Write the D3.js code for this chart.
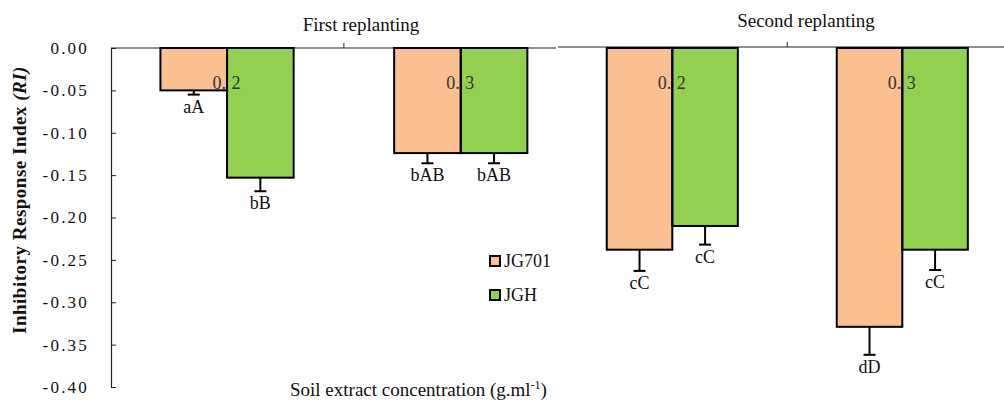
<!DOCTYPE html>
<html>
<head>
<meta charset="utf-8">
<script src="https://cdn.jsdelivr.net/npm/d3@7"></script>
<style>
  html, body { margin: 0; padding: 0; background: #fff; }
  svg text { font-family: "Liberation Serif", "Times New Roman", serif; }
</style>
</head>
<body>
<svg id="chart" width="1004" height="407"></svg>
<script>
// Concentrations (g.ml-1) within each replanting
const categories = ["0.2", "0.3"];
const panels = ["First replanting", "Second replanting"];
const seriesNames = ["JG701", "JGH"];
const seriesColors = ["#FAC090", "#92D050"];

// Inhibitory response index, one array per cultivar and replanting
const jg701First = [-0.050, -0.124];
const jghFirst = [-0.153, -0.124];
const jg701Second = [-0.238, -0.329];
const jghSecond = [-0.210, -0.238];

// Standard errors
const jg701FirstErr = [0.005, 0.012];
const jghFirstErr = [0.016, 0.012];
const jg701SecondErr = [0.025, 0.033];
const jghSecondErr = [0.022, 0.024];

// Significance letters
const jg701FirstSig = ["aA", "bAB"];
const jghFirstSig = ["bB", "bAB"];
const jg701SecondSig = ["cC", "dD"];
const jghSecondSig = ["cC", "cC"];

const yTicks = [0, -0.05, -0.10, -0.15, -0.20, -0.25, -0.30, -0.35, -0.40];

const SERIF = "Liberation Serif, Times New Roman, serif";
const svg = d3.select("#chart");

const y = d3.scaleLinear().domain([-0.4, 0]).range([387, 48]);

const panelDefs = [
  { title: panels[0], range: [110.2, 577.6], line: [111, 556], lineY: 48, titleX: 361, titleY: 31,
    values: [jg701First, jghFirst], errs: [jg701FirstErr, jghFirstErr], sig: [jg701FirstSig, jghFirstSig] },
  { title: panels[1], range: [557.3, 1017.3], line: [558, 1004], lineY: 47, titleX: 806, titleY: 27,
    values: [jg701Second, jghSecond], errs: [jg701SecondErr, jghSecondErr], sig: [jg701SecondSig, jghSecondSig] }
];

panelDefs.forEach(p => {
  const x0 = d3.scaleBand().domain(categories).range(p.range).paddingInner(0.43).paddingOuter(0.215);
  const x1 = d3.scaleBand().domain(seriesNames).range([0, x0.bandwidth()]);
  const gap = (x0.step() - x0.bandwidth()) / 2;

  const g = svg.append("g");

  // category axis along the zero line, ticks at category boundaries
  g.append("line")
    .attr("x1", p.line[0]).attr("x2", p.line[1])
    .attr("y1", p.lineY).attr("y2", p.lineY)
    .attr("stroke", "#222").attr("stroke-width", 1.2);
  const bounds = categories.map(c => x0(c) - gap).concat([x0(categories[categories.length - 1]) + x0.bandwidth() + gap]);
  g.selectAll(".ctick").data(bounds.filter(b => b > p.line[0] + 2 && b < p.line[1] + 3))
    .join("line")
    .attr("x1", d => d).attr("x2", d => d)
    .attr("y1", p.lineY - 5).attr("y2", p.lineY)
    .attr("stroke", "#222").attr("stroke-width", 1);

  g.append("text")
    .attr("x", p.titleX).attr("y", p.titleY)
    .attr("text-anchor", "middle")
    .attr("font-family", SERIF)
    .attr("font-size", 19)
    .attr("fill", "#111")
    .text(p.title);

  const rows = [];
  categories.forEach((c, ci) => {
    seriesNames.forEach((s, si) => {
      rows.push({ c, s, si, v: p.values[si][ci], e: p.errs[si][ci], lab: p.sig[si][ci] });
    });
  });

  // bar fills
  g.selectAll(".fill").data(rows).join("rect")
    .attr("x", d => x0(d.c) + x1(d.s))
    .attr("y", y(0))
    .attr("width", x1.bandwidth())
    .attr("height", d => y(d.v) - y(0))
    .attr("fill", d => seriesColors[d.si]);

  // concentration labels sit under the bar outlines
  const cat = g.selectAll(".cat").data(categories).join("text")
    .attr("x", d => x0(d) + x0.bandwidth() / 2 - 14.5)
    .attr("y", 89)
    .attr("font-family", SERIF)
    .attr("font-size", 18)
    .attr("fill", "#333");
  cat.append("tspan").text(d => d.slice(0, 2));
  cat.append("tspan").attr("dx", 5.5).text(d => d.slice(2));

  // bar outlines
  g.selectAll(".outline").data(rows).join("rect")
    .attr("x", d => x0(d.c) + x1(d.s))
    .attr("y", y(0))
    .attr("width", x1.bandwidth())
    .attr("height", d => y(d.v) - y(0))
    .attr("fill", "none")
    .attr("stroke", "#000")
    .attr("stroke-width", 2);

  // error bars (downward only)
  const cx = d => x0(d.c) + x1(d.s) + x1.bandwidth() / 2;
  g.selectAll(".err").data(rows).join("line")
    .attr("x1", cx).attr("x2", cx)
    .attr("y1", d => y(d.v)).attr("y2", d => y(d.v - d.e))
    .attr("stroke", "#000").attr("stroke-width", 2);
  g.selectAll(".cap").data(rows).join("line")
    .attr("x1", d => cx(d) - 6).attr("x2", d => cx(d) + 6)
    .attr("y1", d => y(d.v - d.e)).attr("y2", d => y(d.v - d.e))
    .attr("stroke", "#000").attr("stroke-width", 2);

  // significance letters
  g.selectAll(".sig").data(rows).join("text")
    .attr("x", cx)
    .attr("y", d => y(d.v - d.e) + 18)
    .attr("text-anchor", "middle")
    .attr("font-family", SERIF)
    .attr("font-size", 18)
    .attr("fill", "#111")
    .text(d => d.lab);
});

// value axis
const yAxis = d3.axisLeft(y)
  .tickValues(yTicks)
  .tickFormat(d => d.toFixed(2))
  .tickSizeInner(-5)
  .tickSizeOuter(0)
  .tickPadding(22);
const ya = svg.append("g").attr("transform", "translate(111,0)").call(yAxis)
  .attr("font-family", SERIF).attr("font-size", 17);
ya.select(".domain").attr("stroke", "#222").attr("stroke-width", 1.2);
ya.selectAll(".tick line").attr("stroke", "#222");
ya.selectAll(".tick text").attr("fill", "#111").attr("letter-spacing", "2.2px");

// axis titles
const yt = svg.append("text")
  .attr("transform", "translate(26,200) rotate(-90)")
  .attr("text-anchor", "middle")
  .attr("font-family", SERIF)
  .attr("font-size", 19)
  .attr("letter-spacing", "0.5px")
  .attr("font-weight", "bold")
  .attr("fill", "#111");
yt.append("tspan").text("Inhibitory Response Index ");
yt.append("tspan").attr("font-style", "italic").text("(RI)");

const xt = svg.append("text")
  .attr("x", 290).attr("y", 396)
  .attr("font-family", SERIF)
  .attr("font-size", 19)
  .attr("fill", "#111");
xt.append("tspan").text("Soil extract concentration (g.ml");
xt.append("tspan").attr("font-size", 12).attr("dy", -7).text("-1");
xt.append("tspan").attr("dy", 7).text(")");

// legend
const legend = svg.append("g");
seriesNames.forEach((s, i) => {
  const ly = 256 + i * 34;
  legend.append("rect")
    .attr("x", 490).attr("y", ly)
    .attr("width", 10).attr("height", 10)
    .attr("fill", seriesColors[i])
    .attr("stroke", "#000").attr("stroke-width", 2);
  legend.append("text")
    .attr("x", 504).attr("y", ly + 11)
    .attr("font-family", SERIF)
    .attr("font-size", 18)
    .attr("fill", "#111")
    .text(s);
});
</script>
</body>
</html>
